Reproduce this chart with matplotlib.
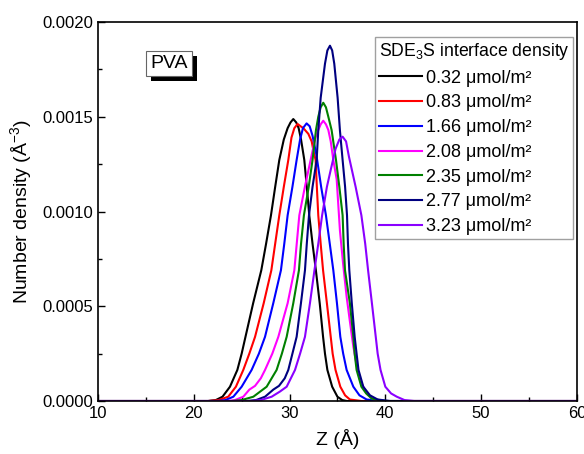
import matplotlib
matplotlib.use("Agg")
import matplotlib.pyplot as plt
from matplotlib.ticker import MultipleLocator, FormatStrFormatter
import matplotlib.patheffects as pe

plt.rcParams['font.family'] = ['Liberation Sans', 'DejaVu Sans']
plt.rcParams['mathtext.fontset'] = 'custom'
plt.rcParams['mathtext.rm'] = 'Liberation Sans'
plt.rcParams['mathtext.it'] = 'Liberation Sans:italic'

labels = ['0.32 μmol/m²', '0.83 μmol/m²', '1.66 μmol/m²', '2.08 μmol/m²',
          '2.35 μmol/m²', '2.77 μmol/m²', '3.23 μmol/m²']
colors = ['#000000', '#ff0000', '#0000ff', '#ff00ff', '#008000', '#000080', '#8a00ff']

z_032 = [10, 21.5, 22.3, 23.0, 23.78, 24.55, 25.0, 25.4, 26.2, 27.05, 27.55, 28.06, 28.5, 28.93,
         29.4, 29.8, 30.1, 30.39, 30.7, 30.95, 31.2, 31.54, 31.8, 32.06, 32.4, 32.75, 33.15,
         33.5, 33.7, 33.95, 34.45, 35.0, 35.5, 36.0, 60]
d_032 = [0, 0, 0.000005, 0.0000227, 0.0000755, 0.000164, 0.00025, 0.000339, 0.000516, 0.00069,
         0.00083, 0.00098, 0.00113, 0.001272, 0.00138, 0.00144, 0.00147, 0.001488, 0.00147,
         0.00144, 0.00138, 0.001272, 0.00113, 0.00098, 0.00083, 0.00069, 0.000516, 0.000339,
         0.00025, 0.000164, 0.0000755, 0.0000227, 0.000005, 0, 0]

z_083 = [10, 21.5, 22.6, 23.6, 24.4, 25.17, 25.8, 26.4, 27.3, 28.1, 28.5, 28.93, 29.4, 29.87,
         30.2, 30.5, 30.84, 31.15, 31.44, 31.96, 32.31, 32.55, 32.72, 32.85, 33.0, 33.25, 33.5,
         33.9, 34.3, 34.5, 34.8, 35.3, 35.8, 36.3, 37.5, 60]
d_083 = [0, 0, 0.000005, 0.0000227, 0.0000755, 0.000164, 0.00025, 0.000339, 0.000516, 0.00069,
         0.00083, 0.00098, 0.00113, 0.001272, 0.00139, 0.00144, 0.001462, 0.00145, 0.00144,
         0.00141, 0.00137, 0.001307, 0.001272, 0.00113, 0.00098, 0.00083, 0.00069, 0.000516,
         0.000339, 0.00025, 0.000164, 0.0000755, 0.00003, 0.000008, 0, 0]

z_166 = [10, 22.5, 23.3, 24.13, 25.0, 26.04, 26.8, 27.44, 28.3, 29.1, 29.45, 29.8, 30.3, 30.74,
         31.1, 31.4, 31.78, 32.1, 32.4, 32.8, 33.3, 33.8, 34.2, 34.57, 34.95, 35.3, 35.6, 35.96,
         36.66, 37.3, 38.05, 39.5, 60]
d_166 = [0, 0, 0.000005, 0.0000227, 0.0000755, 0.000164, 0.00025, 0.000339, 0.000516, 0.00069,
         0.00083, 0.00098, 0.00113, 0.001272, 0.00138, 0.00144, 0.001465, 0.00145, 0.0014,
         0.0013, 0.00113, 0.00098, 0.00083, 0.00069, 0.000516, 0.000339, 0.00025, 0.000164,
         0.0000755, 0.00003, 0.000008, 0, 0]

z_208 = [10, 23.5, 24.3, 25.17, 25.8, 26.4, 27.0, 27.44, 28.2, 28.83, 29.8, 30.5, 30.75, 31.02,
         31.6, 32.2, 32.7, 33.0, 33.25, 33.52, 33.8, 34.05, 34.3, 34.57, 34.92, 35.26, 35.6,
         35.96, 36.3, 36.66, 37.0, 37.35, 38.05, 38.7, 39.5, 60]
d_208 = [0, 0, 0.000005, 0.0000227, 0.00006, 0.00008, 0.00012, 0.000164, 0.00025, 0.000339,
         0.000516, 0.00069, 0.00083, 0.00098, 0.00113, 0.001272, 0.00139, 0.00143, 0.00146,
         0.001479, 0.00146, 0.00143, 0.00137, 0.001272, 0.00117, 0.0009, 0.00072, 0.00055,
         0.00042, 0.000287, 0.00019, 0.000111, 0.00004, 0.00001, 0, 0]

z_235 = [10, 24.0, 25.0, 26.22, 27.61, 28.65, 29.2, 29.7, 30.39, 30.98, 31.2, 31.5, 32.0, 32.4,
         32.76, 33.0, 33.25, 33.52, 33.8, 34.05, 34.39, 34.85, 35.2, 35.54, 35.65, 35.79, 36.3,
         36.66, 36.8, 37.0, 37.5, 38.0, 38.6, 40.0, 60]
d_235 = [0, 0, 0.000005, 0.0000227, 0.0000755, 0.000164, 0.00025, 0.000339, 0.000516, 0.00069,
         0.00083, 0.00098, 0.00113, 0.001272, 0.00143, 0.0015, 0.00155, 0.001574, 0.00155,
         0.0015, 0.00143, 0.001272, 0.00113, 0.00098, 0.00083, 0.00069, 0.000516, 0.000339,
         0.00025, 0.000164, 0.0000755, 0.00004, 0.000012, 0, 0]

z_277 = [10, 25.5, 26.5, 27.44, 28.3, 28.9, 29.5, 29.87, 30.3, 30.74, 31.19, 31.61, 31.8, 32.03,
         32.4, 32.83, 33.0, 33.25, 33.7, 33.95, 34.22, 34.45, 34.67, 35.02, 35.26, 35.54, 35.8,
         36.0, 36.1, 36.24, 36.5, 36.8, 37.0, 37.2, 37.7, 38.4, 39.2, 40.5, 60]
d_277 = [0, 0, 0.000005, 0.0000227, 0.00006, 0.00008, 0.00012, 0.000164, 0.00025, 0.000339,
         0.000516, 0.00069, 0.00083, 0.00098, 0.00113, 0.001272, 0.001428, 0.0016, 0.00178,
         0.00185, 0.001875, 0.00185, 0.00178, 0.0016, 0.001428, 0.001272, 0.00113, 0.00098,
         0.00083, 0.00069, 0.000516, 0.000339, 0.00025, 0.000164, 0.0000755, 0.00003,
         0.000008, 0, 0]

z_323 = [10, 26.0, 27.0, 28.13, 29.0, 29.7, 30.57, 31.1, 31.61, 32.13, 32.6, 33.0, 33.4, 33.9,
         34.3, 34.8, 35.2, 35.54, 35.9, 36.2, 36.9, 37.5, 37.9, 38.2, 38.6, 39.0, 39.2, 39.5,
         40.0, 40.6, 41.2, 42.0, 43.0, 60]
d_323 = [0, 0, 0.000005, 0.0000227, 0.00005, 0.0000755, 0.000164, 0.00025, 0.000339, 0.000516,
         0.00069, 0.00083, 0.00098, 0.00113, 0.00122, 0.00133, 0.00138, 0.001395, 0.00137,
         0.00129, 0.00113, 0.00098, 0.00083, 0.00069, 0.000516, 0.000339, 0.00025, 0.000164,
         0.0000755, 0.00004, 0.0000227, 0.000005, 0, 0]

series_z = [z_032, z_083, z_166, z_208, z_235, z_277, z_323]
series_d = [d_032, d_083, d_166, d_208, d_235, d_277, d_323]

fig = plt.figure(figsize=(5.84, 4.54), dpi=100)
ax = fig.add_axes([0.1678, 0.1167, 0.820, 0.8348])

for z, d, c, lab in zip(series_z, series_d, colors, labels):
    ax.plot(z, d, color=c, lw=1.5, label=lab, solid_joinstyle='round')

ax.set_xlim(10, 60)
ax.set_ylim(0, 0.002)
ax.xaxis.set_major_locator(MultipleLocator(10))
ax.xaxis.set_minor_locator(MultipleLocator(5))
ax.yaxis.set_major_locator(MultipleLocator(0.0005))
ax.yaxis.set_minor_locator(MultipleLocator(0.00025))
ax.yaxis.set_major_formatter(FormatStrFormatter('%.4f'))
ax.tick_params(which='both', direction='in', top=False, right=False, labelsize=12)
ax.tick_params(which='major', length=5, width=1)
ax.tick_params(which='minor', length=3, width=1)
for s in ax.spines.values():
    s.set_linewidth(1.2)

ax.set_xlabel('Z (Å)', fontsize=14, labelpad=6)
ax.set_ylabel('Number density (Å$^{-3}$)', fontsize=14, labelpad=6)

leg = ax.legend(loc='upper right', bbox_to_anchor=(0.992, 0.960), fontsize=13,
                title='SDE$_3$S interface density', title_fontsize=12.7, alignment='left',
                frameon=True, fancybox=False, edgecolor='#888888', handlelength=2.4,
                borderaxespad=0.0, labelspacing=0.43, handletextpad=0.25, borderpad=0.2)
leg.get_frame().set_linewidth(1.0)

# PVA label with shadowed box
t = ax.text(17.4, 0.00178, 'PVA', fontsize=14, color='black', ha='center', va='center',
            bbox=dict(boxstyle='square,pad=0.22', facecolor='white', edgecolor='#666666', lw=0.8))
t.get_bbox_patch().set_path_effects([
    pe.SimplePatchShadow(offset=(3.6, -3.6), shadow_rgbFace='black', alpha=1.0),
    pe.Normal()])

fig.savefig('out.png', dpi=100)
